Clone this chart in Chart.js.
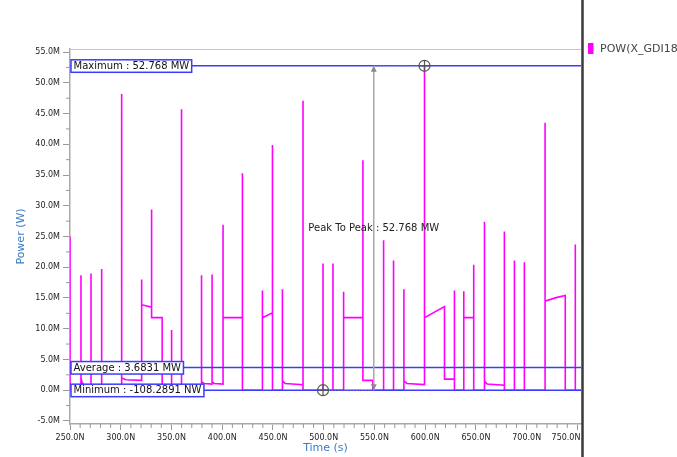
<!DOCTYPE html>
<html>
<head>
<meta charset="utf-8">
<title>Power waveform</title>
<script src="https://cdn.jsdelivr.net/npm/chart.js@4.4.1/dist/chart.umd.min.js"></script>
<style>
  html, body { margin: 0; padding: 0; background: #fff; }
</style>
</head>
<body>
<canvas id="power-chart" width="677" height="457"></canvas>
<script>
// waveform samples: time in ns, power in MW
// (same time twice = vertical edge of a spike)
const timeNs = [
  250, 250, 260.8, 260.8, 260.8, 262, 263.5, 263.5, 270.7, 270.7, 270.7, 281.2, 281.2, 281.2,
  300.9, 300.9, 300.9, 305, 320.6, 320.6, 320.6, 330.4, 330.4, 330.4, 340.8, 340.8,
  350.1, 350.1, 350.1, 359.9, 359.9, 359.9, 379.6, 379.6, 379.6, 382, 390, 390, 390, 392,
  400.8, 400.8, 400.8, 419.9, 419.9, 419.9, 439.6, 439.6, 439.6, 449.5, 449.5, 449.5,
  459.3, 459.3, 459.3, 462, 479.6, 479.6, 479.6, 499.3, 499.3, 499.3, 509.1, 509.1, 509.1,
  519.6, 519.6, 519.6, 538.6, 538.6, 538.6, 548.4, 548.4, 559, 559, 559, 568.8, 568.8, 568.8,
  579, 579, 579, 582, 599.3, 599.3, 599.3, 619, 619, 628.8, 628.8, 628.8, 638, 638, 638,
  647.8, 647.8, 647.8, 658.4, 658.4, 658.4, 661, 678, 678, 678, 687.9, 687.9, 687.9,
  697.7, 697.7, 697.7, 718.1, 718.1, 718.1, 730, 738, 738, 747.9, 747.9, 747.9, 753.5
];
const powerMW = [
  25.0, 0, 0, 18.7, 2.0, 1.2, 0.9, 0, 0, 19.0, 0, 0, 19.7, 0,
  0, 48.2, 2.0, 1.7, 1.6, 18.0, 13.9, 13.5, 29.4, 11.8, 11.8, 0,
  0, 9.8, 0, 0, 45.7, 0, 0, 18.7, 1.4, 1.1, 1.0, 18.8, 1.4, 1.1,
  1.0, 26.9, 11.8, 11.8, 35.3, 0, 0, 16.2, 11.8, 12.6, 39.9, 0,
  0, 16.4, 1.5, 1.1, 0.9, 47.1, 0, -0.0001082891, 20.6, 0, 0, 20.6, 0,
  0, 16.0, 11.8, 11.8, 37.4, 1.6, 1.6, 0, 0, 24.4, 0, 0, 21.1, 0,
  0, 16.4, 1.5, 1.1, 0.9, 52.768, 11.8, 13.6, 1.8, 1.8, 16.2, 0, 0, 16.1, 11.8,
  11.8, 20.4, 0, 0, 27.4, 1.5, 1.0, 0.8, 25.8, 0, 0, 21.1, 0,
  0, 20.8, 0, 0, 43.5, 14.5, 15.1, 15.4, 0, 0, 23.7, 0, 0
];

const seriesName = 'POW(X_GDI18.VDD)';

// axis ranges and ticks
const xRange = [250, 753.5];
const yRange = [-5.5, 55.5];
const xTicksNs = [250, 300, 350, 400, 450, 500, 550, 600, 650, 700, 750];
const yTicksMW = [-5, 0, 5, 10, 15, 20, 25, 30, 35, 40, 45, 50, 55];
const xMinorStep = 10;
const yMinorStep = 2.5;

// measurement markers
const maxMW = 52.768;
const avgMW = 3.6831;
const minMW = -0.0001082891;
const maxAtNs = 599.3;
const minAtNs = 499.3;
const maxLabel = 'Maximum : 52.768 MW';
const avgLabel = 'Average : 3.6831 MW';
const minLabel = 'Minimum : -108.2891 NW';
const peakLabel = 'Peak To Peak : 52.768 MW';

const waveColor = '#ff00ff';
const markColor = '#3c3cff';
const titleColor = '#3b7dc4';
const FONT = '"DejaVu Sans", sans-serif';

const wave = timeNs.map((t, i) => ({ x: t, y: powerMW[i] }));

function flatLine(v) {
  return [{ x: xRange[0], y: v }, { x: xRange[1], y: v }];
}

// draws boxes, peak-to-peak arrow, minor ticks, legend and the panel divider
const markersPlugin = {
  id: 'markers',
  afterDatasetsDraw(chart) {
    const ctx = chart.ctx;
    const xs = chart.scales.x;
    const ys = chart.scales.y;
    const area = chart.chartArea;

    // peak to peak arrow sits halfway between the min and max times
    const midX = xs.getPixelForValue((maxAtNs + minAtNs) / 2);
    const yMax = ys.getPixelForValue(maxMW);
    const yMin = ys.getPixelForValue(minMW);

    ctx.save();
    ctx.strokeStyle = '#8a8a8a';
    ctx.lineWidth = 1;
    ctx.setLineDash([1, 2]);
    ctx.beginPath();
    ctx.moveTo(midX, yMax);
    ctx.lineTo(xs.getPixelForValue(maxAtNs), yMax);
    ctx.moveTo(xs.getPixelForValue(minAtNs), yMin);
    ctx.lineTo(midX, yMin);
    ctx.stroke();
    ctx.setLineDash([]);

    ctx.strokeStyle = '#a8a8a8';
    ctx.lineWidth = 1.5;
    ctx.beginPath();
    ctx.moveTo(midX, yMax);
    ctx.lineTo(midX, yMin);
    ctx.stroke();
    ctx.fillStyle = '#8a8a8a';
    ctx.beginPath();
    ctx.moveTo(midX, yMax);
    ctx.lineTo(midX - 3, yMax + 6);
    ctx.lineTo(midX + 3, yMax + 6);
    ctx.closePath();
    ctx.moveTo(midX, yMin);
    ctx.lineTo(midX - 3, yMin - 6);
    ctx.lineTo(midX + 3, yMin - 6);
    ctx.closePath();
    ctx.fill();

    // crosshair circles on the extremes
    [[maxAtNs, maxMW], [minAtNs, minMW]].forEach(function (p) {
      const cx = xs.getPixelForValue(p[0]);
      const cy = ys.getPixelForValue(p[1]);
      ctx.strokeStyle = '#555';
      ctx.lineWidth = 1.2;
      ctx.beginPath();
      ctx.arc(cx, cy, 5.5, 0, Math.PI * 2);
      ctx.moveTo(cx - 5.5, cy);
      ctx.lineTo(cx + 5.5, cy);
      ctx.moveTo(cx, cy - 5.5);
      ctx.lineTo(cx, cy + 5.5);
      ctx.stroke();
    });

    ctx.font = '10px ' + FONT;
    ctx.fillStyle = '#222';
    ctx.textAlign = 'center';
    ctx.textBaseline = 'middle';
    ctx.fillText(peakLabel, midX, (yMax + yMin) / 2);

    // label boxes at the left edge
    [[maxLabel, maxMW], [avgLabel, avgMW], [minLabel, minMW]].forEach(function (m) {
      const cy = ys.getPixelForValue(m[1]);
      const w = ctx.measureText(m[0]).width + 5;
      const bx = area.left + 1;
      ctx.fillStyle = '#fff';
      ctx.fillRect(bx, cy - 6, w, 12.5);
      ctx.strokeStyle = markColor;
      ctx.lineWidth = 1.5;
      ctx.strokeRect(bx, cy - 6, w, 12.5);
      ctx.fillStyle = '#111';
      ctx.textAlign = 'left';
      ctx.fillText(m[0], bx + 2.5, cy + 0.5);
    });
    ctx.restore();
  },
  afterDraw(chart) {
    const ctx = chart.ctx;
    const xs = chart.scales.x;
    const ys = chart.scales.y;
    const area = chart.chartArea;

    ctx.save();
    // top border of the plot
    ctx.strokeStyle = '#c8c8c8';
    ctx.lineWidth = 1;
    ctx.beginPath();
    ctx.moveTo(area.left, area.top + 0.5);
    ctx.lineTo(area.right, area.top + 0.5);
    ctx.stroke();

    // minor ticks
    ctx.strokeStyle = '#999';
    ctx.beginPath();
    for (let t = xRange[0]; t <= xRange[1]; t += xMinorStep) {
      if (xTicksNs.includes(t)) continue;
      const px = xs.getPixelForValue(t);
      ctx.moveTo(px, area.bottom);
      ctx.lineTo(px, area.bottom + 4);
    }
    for (let v = yTicksMW[0]; v <= yRange[1]; v += yMinorStep) {
      if (yTicksMW.includes(v)) continue;
      const py = ys.getPixelForValue(v);
      ctx.moveTo(area.left - 4, py);
      ctx.lineTo(area.left, py);
    }
    ctx.stroke();

    // dark panel divider on the right of the plot
    ctx.strokeStyle = '#3a3a3a';
    ctx.lineWidth = 2.5;
    ctx.beginPath();
    ctx.moveTo(area.right + 1.5, 0);
    ctx.lineTo(area.right + 1.5, chart.height);
    ctx.stroke();

    // legend entry
    ctx.fillStyle = waveColor;
    ctx.fillRect(area.right + 7, 43, 5.5, 11);
    ctx.fillStyle = '#444';
    ctx.font = '11px ' + FONT;
    ctx.textAlign = 'left';
    ctx.textBaseline = 'middle';
    ctx.fillText(chart.data.datasets[0].label, area.right + 19, 49);
    ctx.restore();
  }
};

const ctx = document.getElementById('power-chart').getContext('2d');
const powerChart = new Chart(ctx, {
  type: 'line',
  data: {
    datasets: [
      { label: seriesName, data: wave, borderColor: waveColor, borderWidth: 1.6, pointRadius: 0, order: 1 },
      { label: 'max', data: flatLine(maxMW), borderColor: markColor, borderWidth: 1.5, pointRadius: 0, order: 0 },
      { label: 'avg', data: flatLine(avgMW), borderColor: markColor, borderWidth: 1.5, pointRadius: 0, order: 0 },
      { label: 'min', data: flatLine(minMW), borderColor: markColor, borderWidth: 1.5, pointRadius: 0, order: 0 }
    ]
  },
  options: {
    responsive: false,
    animation: false,
    layout: { padding: { top: 49, right: 96, left: 0, bottom: 0 } },
    plugins: {
      legend: { display: false },
      tooltip: { enabled: false }
    },
    scales: {
      x: {
        type: 'linear',
        min: xRange[0],
        max: xRange[1],
        afterBuildTicks: function (scale) {
          scale.ticks = xTicksNs.map(v => ({ value: v }));
        },
        afterFit: function (scale) { scale.height = 33; },
        ticks: {
          // last label is pushed left so it stays inside the plot panel
          callback: (v, i, ticks) => v.toFixed(1) + 'N' + (i === ticks.length - 1 ? ' '.repeat(9) : ''),
          font: { family: FONT, size: 8 },
          color: '#222',
          padding: 3,
          maxRotation: 0,
          autoSkip: false
        },
        grid: { drawOnChartArea: false, tickLength: 6, color: '#999' },
        border: { color: '#aaa', width: 1.5 },
        title: {
          display: true,
          text: 'Time (s)',
          color: titleColor,
          font: { family: FONT, size: 11 },
          padding: { top: 0, bottom: 2 }
        }
      },
      y: {
        min: yRange[0],
        max: yRange[1],
        afterBuildTicks: function (scale) {
          scale.ticks = yTicksMW.map(v => ({ value: v }));
        },
        afterFit: function (scale) { scale.width = 70; },
        ticks: {
          callback: v => v.toFixed(1) + 'M',
          font: { family: FONT, size: 8 },
          color: '#222',
          padding: 3
        },
        grid: { drawOnChartArea: false, tickLength: 7, color: '#999' },
        border: { color: '#aaa', width: 1.5 },
        title: {
          display: true,
          text: 'Power (W)',
          color: titleColor,
          font: { family: FONT, size: 11 },
          padding: { top: 15, bottom: 0 }
        }
      }
    }
  },
  plugins: [markersPlugin]
});
</script>
</body>
</html>
